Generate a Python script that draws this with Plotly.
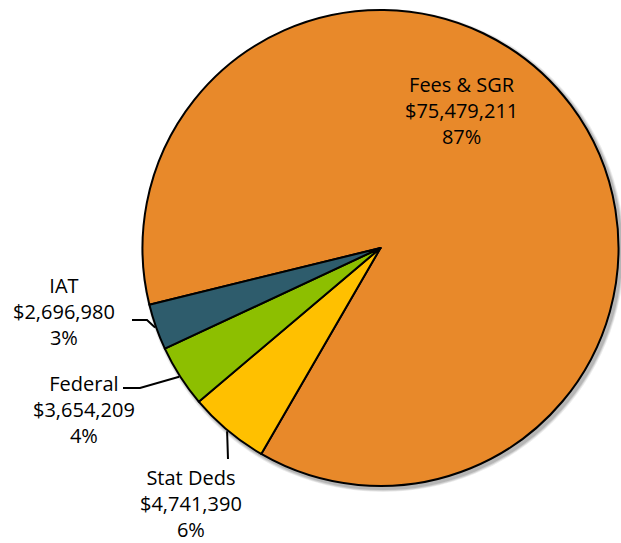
import math
import plotly.graph_objects as go

# ---- data ----
categories = ["Fees & SGR", "Stat Deds", "Federal", "IAT"]
amounts = [75479211, 4741390, 3654209, 2696980]
pct_labels = ["87%", "6%", "4%", "3%"]
colors = ["#E8892A", "#FFC000", "#8DBF00", "#2E5C6C"]

# ---- layout geometry (pixels) ----
W, H = 621, 543
CX, CY, R = 380.5, 248.0, 238.0
ROTATION = 256.2  # start of first slice, degrees clockwise from 12 o'clock
FONT = "Open Sans"
FS = 20

def px(x):
    return x / W

def py(y):
    return 1 - y / H

def dom(cx, cy, r):
    return dict(x=[px(cx - r), px(cx + r)], y=[py(cy + r), py(cy - r)])

fig = go.Figure()

fig.add_trace(go.Pie(
    labels=categories, values=amounts, sort=False, direction="clockwise",
    rotation=ROTATION, textinfo="none", hoverinfo="label+value+percent",
    marker=dict(colors=colors, line=dict(color="black", width=2)),
    domain=dom(CX, CY, R), showlegend=False,
))

shapes = []
# soft drop shadow layers (decoration)
for dr, op in [(3.5, 0.10), (2.5, 0.14), (1.5, 0.18)]:
    sx, sy, sr = CX + 2.5, CY + 2.5, R + dr
    shapes.append(dict(type="circle", xref="paper", yref="paper", layer="below",
                       x0=px(sx - sr), x1=px(sx + sr), y0=py(sy + sr), y1=py(sy - sr),
                       fillcolor=f"rgba(60,60,60,{op})", line=dict(width=0)))

# label positions (pixel centres of middle line) and leader-line layout
label_pos = {
    "Fees & SGR": (461, 110),
    "IAT": (64, 311),
    "Federal": (84, 409),
    "Stat Deds": (191, 503),
}
leaders = {  # elbow and end points of leader lines
    "IAT": [(147, 320), (132, 320)],
    "Federal": [(140, 388), (123, 388)],
    "Stat Deds": [(228, 459)],
}

total = sum(amounts)
cum = 0.0
annotations = []
for cat, val, pct in zip(categories, amounts, pct_labels):
    mid = ROTATION + 360.0 * (cum + val / 2) / total
    cum += val
    text = f"{cat}<br>${val:,}<br>{pct}"
    lx, ly = label_pos[cat]
    annotations.append(dict(
        x=px(lx), y=py(ly), xref="paper", yref="paper", text=text, showarrow=False,
        xanchor="center", yanchor="middle", align="center", borderpad=0,
        font=dict(family=FONT, size=FS, color="black"),
    ))
    if cat in leaders:
        a = math.radians(mid)
        sx = CX + (R + 1) * math.sin(a)
        sy = CY - (R + 1) * math.cos(a)
        pts = [(sx, sy)] + leaders[cat]
        path = "M " + " L ".join(f"{px(x)},{py(y)}" for x, y in pts)
        shapes.append(dict(type="path", path=path, xref="paper", yref="paper",
                           line=dict(color="black", width=2)))

fig.update_layout(
    width=W, height=H, margin=dict(l=0, r=0, t=0, b=0),
    paper_bgcolor="white", plot_bgcolor="white",
    annotations=annotations, shapes=shapes, showlegend=False,
)

fig.write_html("out.html", config={"displayModeBar": False},
               post_script="document.body.style.margin='0';document.body.style.overflow='hidden';")
